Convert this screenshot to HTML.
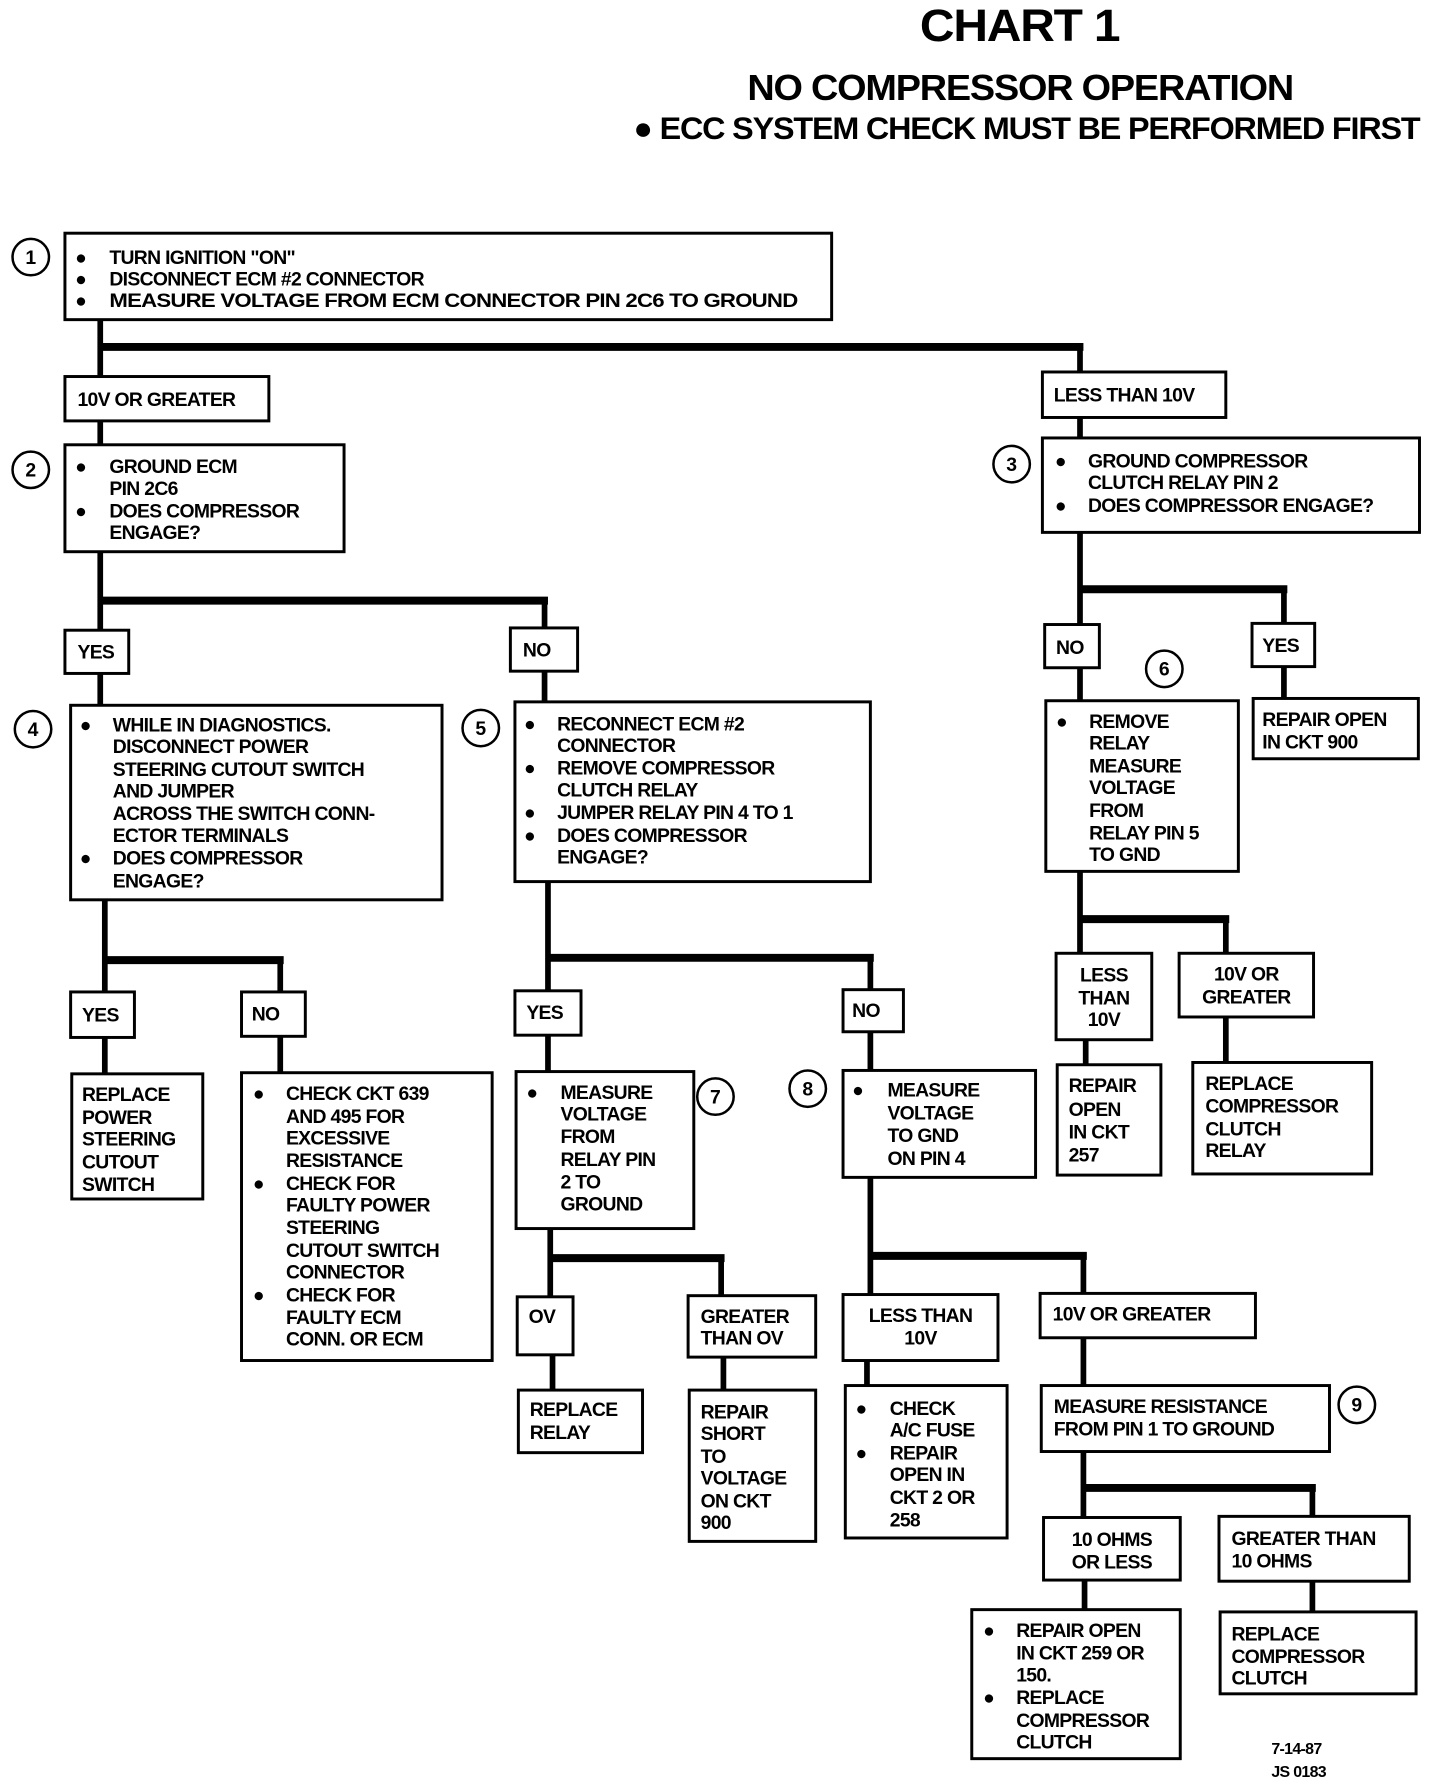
<!DOCTYPE html>
<html><head><meta charset="utf-8"><style>
html,body{margin:0;padding:0;background:#fff;}
svg{display:block;}
text{font-family:"Liberation Sans",sans-serif;font-weight:bold;fill:#000;font-size:17px;letter-spacing:-0.6px;}
.b rect{fill:#fff;stroke:#000;stroke-width:2.6;}
.l{stroke:#000;stroke-width:5;fill:none;stroke-linecap:square;}
.h{stroke:#000;stroke-width:7;fill:none;}
circle{fill:#fff;stroke:#000;stroke-width:2.2;}
.n{font-size:17px;text-anchor:middle;letter-spacing:0;}
.d{font-size:14px;}
</style></head><body>
<svg width="1440" height="1778" viewBox="0 0 1264 1563" preserveAspectRatio="none" xmlns="http://www.w3.org/2000/svg">
<text x="895" y="36" text-anchor="middle" style="font-size:40px;letter-spacing:-1px" textLength="175" lengthAdjust="spacingAndGlyphs">CHART 1</text>
<text x="656" y="88" style="font-size:32px;letter-spacing:-1px" textLength="479" lengthAdjust="spacingAndGlyphs">NO COMPRESSOR OPERATION</text>
<text x="556" y="122" style="font-size:28px;letter-spacing:-1px" textLength="690" lengthAdjust="spacingAndGlyphs">● ECC SYSTEM CHECK MUST BE PERFORMED FIRST</text>

<!-- connectors -->
<g class="l">
<path d="M88 281V331M948 305V330M88 370V391M948 367V385"/>
<path d="M88 485V554M478 528V553M88 592V620M478 590V617"/>
<path d="M948 468V549M1127 518V548M948 587V616M1127 586V614"/>
<path d="M92 791V872M246 844V872M92 912V944M246 911V943"/>
<path d="M481 775V871M764 842V870M481 910V942M764 907V941"/>
<path d="M948 766V838M1076 808V838M953 914V936M1076 894V934"/>
<path d="M483 1080V1140M633 1106V1139M485 1191V1222M635 1193V1222"/>
<path d="M764 1035V1138M951 1104V1137M761 1196V1218M951 1176V1218"/>
<path d="M951 1276V1334M1152 1308V1333M952 1389V1415M1152 1390V1417"/>
</g>
<g class="h">
<path d="M86 305H951M86 528H481M946 518H1130M90 844H249M479 842H767M946 808H1079M481 1106H636M762 1104H954M949 1308H1155"/>
</g>

<g class="b">
<rect x="57" y="205" width="673" height="76"/>
<rect x="57" y="331" width="179" height="39"/>
<rect x="57" y="391" width="245" height="94"/>
<rect x="915" y="327" width="161" height="40"/>
<rect x="915" y="385" width="331" height="83"/>
<rect x="57" y="554" width="56" height="38"/>
<rect x="448" y="552" width="59" height="38"/>
<rect x="62" y="620" width="326" height="171"/>
<rect x="452" y="617" width="312" height="158"/>
<rect x="917" y="549" width="48" height="38"/>
<rect x="1099" y="548" width="55" height="38"/>
<rect x="918" y="616" width="169" height="150"/>
<rect x="1100" y="614" width="145" height="53"/>
<rect x="62" y="872" width="56" height="40"/>
<rect x="212" y="872" width="56" height="39"/>
<rect x="63" y="944" width="115" height="110"/>
<rect x="212" y="943" width="220" height="253"/>
<rect x="452" y="871" width="58" height="39"/>
<rect x="740" y="870" width="53" height="37"/>
<rect x="453" y="942" width="156" height="138"/>
<rect x="740" y="941" width="169" height="94"/>
<rect x="927" y="838" width="84" height="76"/>
<rect x="1035" y="838" width="118" height="56"/>
<rect x="928" y="936" width="91" height="97"/>
<rect x="1047" y="934" width="157" height="98"/>
<rect x="454" y="1140" width="49" height="51"/>
<rect x="604" y="1139" width="112" height="54"/>
<rect x="455" y="1222" width="109" height="55"/>
<rect x="605" y="1222" width="111" height="133"/>
<rect x="740" y="1138" width="136" height="58"/>
<rect x="913" y="1137" width="189" height="39"/>
<rect x="742" y="1218" width="142" height="134"/>
<rect x="914" y="1218" width="253" height="58"/>
<rect x="916" y="1334" width="120" height="55"/>
<rect x="1070" y="1333" width="167" height="57"/>
<rect x="853" y="1415" width="183" height="131"/>
<rect x="1071" y="1417" width="172" height="72"/>
</g>

<circle cx="27" cy="226" r="16"/><text class="n" x="27" y="232">1</text>
<circle cx="27" cy="413" r="16"/><text class="n" x="27" y="419">2</text>
<circle cx="888" cy="408" r="16"/><text class="n" x="888" y="414">3</text>
<circle cx="29" cy="641" r="16"/><text class="n" x="29" y="647">4</text>
<circle cx="422" cy="640" r="16"/><text class="n" x="422" y="646">5</text>
<circle cx="1022" cy="588" r="16"/><text class="n" x="1022" y="594">6</text>
<circle cx="628" cy="964" r="16"/><text class="n" x="628" y="970">7</text>
<circle cx="709" cy="957" r="16"/><text class="n" x="709" y="963">8</text>
<circle cx="1191" cy="1235" r="16"/><text class="n" x="1191" y="1241">9</text>

<!-- box 1 -->
<text x="66" y="232">●</text><text x="96" y="232">TURN IGNITION "ON"</text>
<text x="66" y="251">●</text><text x="96" y="251">DISCONNECT ECM #2 CONNECTOR</text>
<text x="66" y="270">●</text><text x="96" y="270" textLength="604" lengthAdjust="spacingAndGlyphs">MEASURE VOLTAGE FROM ECM CONNECTOR PIN 2C6 TO GROUND</text>
<text x="68" y="357">10V OR GREATER</text>
<text x="66" y="416">●</text><text x="96" y="416">GROUND ECM</text>
<text x="96" y="435">PIN 2C6</text>
<text x="66" y="455">●</text><text x="96" y="455">DOES COMPRESSOR</text>
<text x="96" y="474">ENGAGE?</text>
<text x="925" y="353">LESS THAN 10V</text>
<text x="926" y="411">●</text><text x="955" y="411">GROUND COMPRESSOR</text>
<text x="955" y="430">CLUTCH RELAY PIN 2</text>
<text x="926" y="450">●</text><text x="955" y="450">DOES COMPRESSOR ENGAGE?</text>
<text x="68" y="579">YES</text>
<text x="459" y="577">NO</text>
<text x="927" y="575">NO</text>
<text x="1108" y="573">YES</text>
<!-- box4 -->
<text x="70" y="643">●</text><text x="99" y="643">WHILE IN DIAGNOSTICS.</text>
<text x="99" y="662">DISCONNECT POWER</text>
<text x="99" y="682">STEERING CUTOUT SWITCH</text>
<text x="99" y="701">AND JUMPER</text>
<text x="99" y="721">ACROSS THE SWITCH CONN-</text>
<text x="99" y="740">ECTOR TERMINALS</text>
<text x="70" y="760">●</text><text x="99" y="760">DOES COMPRESSOR</text>
<text x="99" y="780">ENGAGE?</text>
<!-- box5 -->
<text x="460" y="642">●</text><text x="489" y="642">RECONNECT ECM #2</text>
<text x="489" y="661">CONNECTOR</text>
<text x="460" y="681">●</text><text x="489" y="681">REMOVE COMPRESSOR</text>
<text x="489" y="700">CLUTCH RELAY</text>
<text x="460" y="720">●</text><text x="489" y="720">JUMPER RELAY PIN 4 TO 1</text>
<text x="460" y="740">●</text><text x="489" y="740">DOES COMPRESSOR</text>
<text x="489" y="759">ENGAGE?</text>
<!-- box6 -->
<text x="927" y="640">●</text><text x="956" y="640">REMOVE</text>
<text x="956" y="659">RELAY</text>
<text x="956" y="679">MEASURE</text>
<text x="956" y="698">VOLTAGE</text>
<text x="956" y="718">FROM</text>
<text x="956" y="738">RELAY PIN 5</text>
<text x="956" y="757">TO GND</text>
<text x="1108" y="638">REPAIR OPEN</text>
<text x="1108" y="658">IN CKT 900</text>
<text x="72" y="898">YES</text>
<text x="221" y="897">NO</text>
<text x="72" y="968">REPLACE</text>
<text x="72" y="988">POWER</text>
<text x="72" y="1007">STEERING</text>
<text x="72" y="1027">CUTOUT</text>
<text x="72" y="1047">SWITCH</text>
<text x="222" y="967">●</text><text x="251" y="967">CHECK CKT 639</text>
<text x="251" y="987">AND 495 FOR</text>
<text x="251" y="1006">EXCESSIVE</text>
<text x="251" y="1026">RESISTANCE</text>
<text x="222" y="1046">●</text><text x="251" y="1046">CHECK FOR</text>
<text x="251" y="1065">FAULTY POWER</text>
<text x="251" y="1085">STEERING</text>
<text x="251" y="1105">CUTOUT SWITCH</text>
<text x="251" y="1124">CONNECTOR</text>
<text x="222" y="1144">●</text><text x="251" y="1144">CHECK FOR</text>
<text x="251" y="1164">FAULTY ECM</text>
<text x="251" y="1183">CONN. OR ECM</text>
<text x="462" y="896">YES</text>
<text x="748" y="894">NO</text>
<text x="462" y="966">●</text><text x="492" y="966">MEASURE</text>
<text x="492" y="985">VOLTAGE</text>
<text x="492" y="1005">FROM</text>
<text x="492" y="1025">RELAY PIN</text>
<text x="492" y="1045">2 TO</text>
<text x="492" y="1064">GROUND</text>
<text x="748" y="964">●</text><text x="779" y="964">MEASURE</text>
<text x="779" y="984">VOLTAGE</text>
<text x="779" y="1004">TO GND</text>
<text x="779" y="1024">ON PIN 4</text>
<text x="969" y="863" text-anchor="middle">LESS</text>
<text x="969" y="883" text-anchor="middle">THAN</text>
<text x="969" y="902" text-anchor="middle">10V</text>
<text x="1094" y="862" text-anchor="middle">10V OR</text>
<text x="1094" y="882" text-anchor="middle">GREATER</text>
<text x="938" y="960">REPAIR</text>
<text x="938" y="981">OPEN</text>
<text x="938" y="1001">IN CKT</text>
<text x="938" y="1021">257</text>
<text x="1058" y="958">REPLACE</text>
<text x="1058" y="978">COMPRESSOR</text>
<text x="1058" y="998">CLUTCH</text>
<text x="1058" y="1017">RELAY</text>
<text x="464" y="1163">OV</text>
<text x="615" y="1163">GREATER</text>
<text x="615" y="1182">THAN OV</text>
<text x="465" y="1245">REPLACE</text>
<text x="465" y="1265">RELAY</text>
<text x="615" y="1247">REPAIR</text>
<text x="615" y="1266">SHORT</text>
<text x="615" y="1286">TO</text>
<text x="615" y="1305">VOLTAGE</text>
<text x="615" y="1325">ON CKT</text>
<text x="615" y="1344">900</text>
<text x="808" y="1162" text-anchor="middle">LESS THAN</text>
<text x="808" y="1182" text-anchor="middle">10V</text>
<text x="924" y="1161">10V OR GREATER</text>
<text x="751" y="1244">●</text><text x="781" y="1244">CHECK</text>
<text x="781" y="1263">A/C FUSE</text>
<text x="751" y="1283">●</text><text x="781" y="1283">REPAIR</text>
<text x="781" y="1302">OPEN IN</text>
<text x="781" y="1322">CKT 2 OR</text>
<text x="781" y="1342">258</text>
<text x="925" y="1242">MEASURE RESISTANCE</text>
<text x="925" y="1262">FROM PIN 1 TO GROUND</text>
<text x="976" y="1359" text-anchor="middle">10 OHMS</text>
<text x="976" y="1379" text-anchor="middle">OR LESS</text>
<text x="1081" y="1358">GREATER THAN</text>
<text x="1081" y="1378">10 OHMS</text>
<text x="863" y="1439">●</text><text x="892" y="1439">REPAIR OPEN</text>
<text x="892" y="1459">IN CKT 259 OR</text>
<text x="892" y="1478">150.</text>
<text x="863" y="1498">●</text><text x="892" y="1498">REPLACE</text>
<text x="892" y="1518">COMPRESSOR</text>
<text x="892" y="1537">CLUTCH</text>
<text x="1081" y="1442">REPLACE</text>
<text x="1081" y="1462">COMPRESSOR</text>
<text x="1081" y="1481">CLUTCH</text>
<text x="1116" y="1542" class="d">7-14-87</text>
<text x="1116" y="1562" class="d">JS 0183</text>
</svg>
</body></html>
